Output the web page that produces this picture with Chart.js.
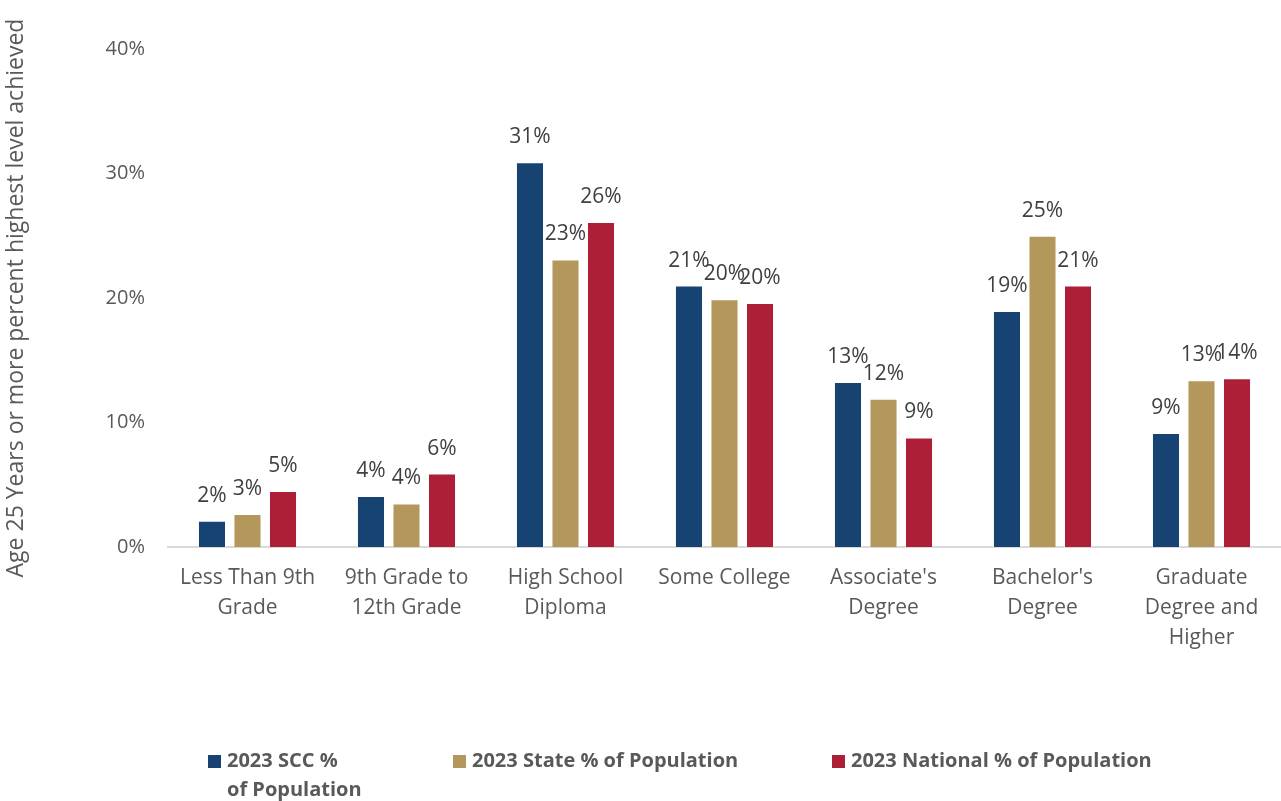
<!DOCTYPE html>
<html>
<head>
<meta charset="utf-8">
<script src="https://cdn.jsdelivr.net/npm/chart.js@4/dist/chart.umd.min.js"></script>
<style>
  html, body { margin: 0; padding: 0; background: #ffffff; }
  #wrap { position: relative; width: 1281px; height: 801px; }
</style>
</head>
<body>
<div id="wrap"><canvas id="c"></canvas></div>
<script>
const categories = [
  ["Less Than 9th", "Grade"],
  ["9th Grade to", "12th Grade"],
  ["High School", "Diploma"],
  ["Some College"],
  ["Associate's", "Degree"],
  ["Bachelor's", "Degree"],
  ["Graduate", "Degree and", "Higher"]
];
const seriesNames = ["2023 SCC % of Population", "2023 State % of Population", "2023 National % of Population"];
const legendLines = [["2023 SCC %", "of Population"], ["2023 State % of Population"], ["2023 National % of Population"]];
const sccValues = [2.1, 4.1, 30.9, 21.0, 13.25, 18.95, 9.15];
const stateValues = [2.65, 3.5, 23.1, 19.9, 11.9, 25.0, 13.4];
const nationalValues = [4.5, 5.9, 26.1, 19.6, 8.8, 21.0, 13.55];
const yTicks = [0, 10, 20, 30, 40];
const seriesColors = ["#174373", "#B3975B", "#AD1E37"];

const FONT = "'Open Sans', Lato, sans-serif";
const TEXT = "#595959";

const dataLabels = {
  id: 'dataLabels',
  afterDatasetsDraw(chart) {
    const ctx = chart.ctx;
    ctx.save();
    ctx.font = "21px " + FONT;
    ctx.fillStyle = "#404040";
    ctx.textAlign = "center";
    ctx.textBaseline = "middle";
    chart.data.datasets.forEach((ds, i) => {
      const meta = chart.getDatasetMeta(i);
      meta.data.forEach((el, j) => {
        ctx.fillText(Math.round(ds.data[j]) + "%", el.x, el.y - 25);
      });
    });
    ctx.restore();
  }
};

const customLegend = {
  id: 'customLegend',
  afterDraw(chart, args, opts) {
    const ctx = chart.ctx;
    ctx.save();
    ctx.font = "bold 20px " + FONT;
    ctx.textBaseline = "middle";
    ctx.textAlign = "left";
    opts.xs.forEach((x, i) => {
      ctx.fillStyle = seriesColors[i];
      ctx.fillRect(x, opts.y - 6, 13, 13);
      ctx.fillStyle = TEXT;
      legendLines[i].forEach((line, k) => {
        ctx.fillText(line, x + 19, opts.y + k * 29);
      });
    });
    ctx.restore();
  }
};

new Chart(document.getElementById('c'), {
  type: 'bar',
  data: {
    labels: categories,
    datasets: [
      { label: seriesNames[0], data: sccValues, backgroundColor: seriesColors[0] },
      { label: seriesNames[1], data: stateValues, backgroundColor: seriesColors[1] },
      { label: seriesNames[2], data: nationalValues, backgroundColor: seriesColors[2] }
    ]
  },
  options: {
    responsive: true,
    maintainAspectRatio: false,
    animation: false,
    datasets: {
      bar: {
        categoryPercentage: 0.67,
        barPercentage: 0.79,
        borderColor: "rgba(255,255,255,0.6)",
        borderWidth: 1
      }
    },
    layout: { padding: { top: 49, left: 0, right: 0, bottom: 0 } },
    plugins: {
      legend: { display: false },
      tooltip: { enabled: false },
      customLegend: { xs: [208, 453, 832], y: 761 }
    },
    scales: {
      x: {
        grid: { display: false, drawTicks: false },
        border: { display: true, color: "#d9d9d9", width: 2 },
        ticks: {
          color: TEXT,
          font: { family: FONT, size: 21, lineHeight: 1.43 },
          padding: 16,
          maxRotation: 0,
          autoSkip: false
        },
        afterFit(scale) { scale.height = 254; }
      },
      y: {
        min: 0,
        max: 40,
        afterBuildTicks(scale) { scale.ticks = yTicks.map(v => ({ value: v })); },
        grid: { display: false, drawTicks: false },
        border: { display: false },
        ticks: {
          color: TEXT,
          font: { family: FONT, size: 20 },
          padding: 23,
          callback: v => v + "%"
        },
        title: {
          display: true,
          text: "Age 25 Years or more percent highest level achieved",
          color: TEXT,
          font: { family: FONT, size: 23 },
          padding: { top: 3, bottom: 0 }
        },
        afterFit(scale) { scale.width = 168; }
      }
    }
  },
  plugins: [dataLabels, customLegend]
});
</script>
</body>
</html>
